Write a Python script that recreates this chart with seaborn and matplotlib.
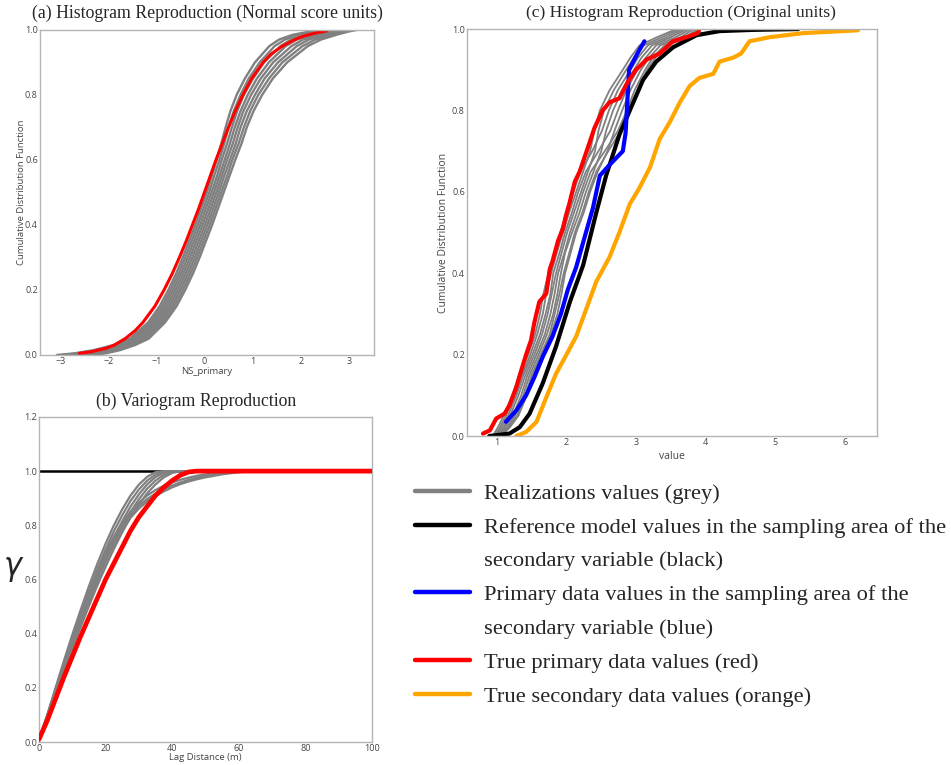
import numpy as np
import pandas as pd
import matplotlib
matplotlib.use("Agg")
import matplotlib.pyplot as plt
from matplotlib.lines import Line2D
import seaborn as sns

# ---------------- data ----------------
# (a) normal-score CDFs: x value reached at each cumulative probability
P_A = [0.0, 0.005, 0.015, 0.03, 0.05, 0.1, 0.15, 0.2, 0.25, 0.3, 0.35, 0.4, 0.45, 0.5,
       0.55, 0.6, 0.65, 0.7, 0.75, 0.8, 0.85, 0.9, 0.95, 0.97, 0.985, 0.995, 1.0]
REAL_A = [
    [-3.07, -2.70, -2.30, -1.90, -1.55, -1.17, -0.93, -0.75, -0.59, -0.45, -0.32, -0.19, -0.07, 0.05,
     0.15, 0.25, 0.35, 0.44, 0.54, 0.67, 0.84, 1.05, 1.35, 1.55, 1.84, 2.20, 2.60],
    [-2.97, -2.61, -2.22, -1.84, -1.49, -1.12, -0.88, -0.70, -0.54, -0.40, -0.27, -0.14, -0.02, 0.10,
     0.20, 0.31, 0.41, 0.50, 0.61, 0.75, 0.92, 1.15, 1.46, 1.67, 1.97, 2.31, 2.68],
    [-2.87, -2.51, -2.14, -1.77, -1.44, -1.07, -0.83, -0.65, -0.49, -0.35, -0.22, -0.09, 0.03, 0.15,
     0.26, 0.36, 0.47, 0.57, 0.68, 0.82, 1.01, 1.24, 1.58, 1.80, 2.10, 2.43, 2.77],
    [-2.77, -2.42, -2.06, -1.71, -1.38, -1.02, -0.78, -0.60, -0.44, -0.30, -0.17, -0.04, 0.08, 0.20,
     0.31, 0.42, 0.53, 0.63, 0.75, 0.90, 1.09, 1.34, 1.69, 1.92, 2.23, 2.54, 2.85],
    [-2.68, -2.33, -1.99, -1.64, -1.33, -0.97, -0.73, -0.55, -0.39, -0.25, -0.12, 0.01, 0.13, 0.25,
     0.36, 0.47, 0.59, 0.69, 0.81, 0.97, 1.17, 1.43, 1.81, 2.05, 2.36, 2.66, 2.93],
    [-2.58, -2.24, -1.91, -1.58, -1.27, -0.92, -0.68, -0.50, -0.34, -0.20, -0.07, 0.06, 0.18, 0.30,
     0.41, 0.53, 0.65, 0.75, 0.88, 1.05, 1.25, 1.53, 1.92, 2.17, 2.49, 2.77, 3.01],
    [-2.48, -2.14, -1.83, -1.51, -1.22, -0.87, -0.63, -0.45, -0.29, -0.15, -0.02, 0.11, 0.23, 0.35,
     0.47, 0.58, 0.71, 0.82, 0.95, 1.12, 1.34, 1.62, 2.04, 2.30, 2.62, 2.89, 3.10],
    [-2.38, -2.05, -1.75, -1.45, -1.16, -0.82, -0.58, -0.40, -0.24, -0.10, 0.03, 0.16, 0.28, 0.40,
     0.52, 0.64, 0.77, 0.88, 1.02, 1.20, 1.42, 1.72, 2.15, 2.42, 2.75, 3.00, 3.18],
]
RED_A_P = [0.005, 0.01, 0.02, 0.03, 0.05, 0.075, 0.1, 0.15, 0.2, 0.25, 0.3, 0.35, 0.4, 0.45, 0.5,
           0.55, 0.6, 0.65, 0.7, 0.75, 0.8, 0.85, 0.9, 0.925, 0.95, 0.97, 0.98, 0.99, 0.997]
RED_A_X = [-2.60, -2.35, -2.06, -1.88, -1.65, -1.44, -1.28, -1.03, -0.84, -0.67, -0.52, -0.38, -0.25,
           -0.12, 0.00, 0.12, 0.24, 0.37, 0.50, 0.64, 0.80, 0.98, 1.22, 1.38, 1.62, 1.88, 2.05, 2.30, 2.55]

# (b) experimental variograms
LAG = [0, 2.5, 5, 7.5, 10, 12.5, 15, 17.5, 20, 22.5, 25, 27.5, 30, 32.5, 35, 37.5, 40, 42.5, 45,
       47.5, 50, 55, 60, 65, 70, 80, 90, 100]
REAL_B = [
    [0.01, 0.101, 0.201, 0.300, 0.396, 0.487, 0.575, 0.657, 0.732, 0.800, 0.859, 0.910, 0.950, 0.979,
     0.996, 1.0, 1.0, 1.0, 1.0, 1.0, 1.0, 1.0, 1.0, 1.0, 1.0, 1.0, 1.0, 1.0],
    [0.01, 0.097, 0.194, 0.289, 0.382, 0.470, 0.556, 0.636, 0.710, 0.778, 0.837, 0.890, 0.932, 0.965,
     0.987, 0.997, 1.0, 1.0, 1.0, 1.0, 1.0, 1.0, 1.0, 1.0, 1.0, 1.0, 1.0, 1.0],
    [0.01, 0.094, 0.186, 0.278, 0.367, 0.453, 0.536, 0.614, 0.688, 0.755, 0.815, 0.869, 0.914, 0.951,
     0.978, 0.994, 1.0, 1.0, 1.0, 1.0, 1.0, 1.0, 1.0, 1.0, 1.0, 1.0, 1.0, 1.0],
    [0.01, 0.090, 0.180, 0.269, 0.355, 0.439, 0.519, 0.596, 0.668, 0.734, 0.795, 0.849, 0.896, 0.935,
     0.965, 0.986, 0.997, 1.0, 1.0, 1.0, 1.0, 1.0, 1.0, 1.0, 1.0, 1.0, 1.0, 1.0],
    [0.01, 0.087, 0.174, 0.259, 0.343, 0.424, 0.502, 0.577, 0.647, 0.713, 0.774, 0.829, 0.877, 0.918,
     0.951, 0.977, 0.993, 1.0, 1.0, 1.0, 1.0, 1.0, 1.0, 1.0, 1.0, 1.0, 1.0, 1.0],
    [0.01, 0.092, 0.183, 0.272, 0.358, 0.440, 0.520, 0.595, 0.665, 0.728, 0.783, 0.828, 0.862, 0.888,
     0.908, 0.925, 0.940, 0.952, 0.962, 0.970, 0.977, 0.988, 0.996, 1.0, 1.0, 1.0, 1.0, 1.0],
    [0.01, 0.095, 0.190, 0.282, 0.370, 0.455, 0.535, 0.610, 0.680, 0.742, 0.795, 0.838, 0.872, 0.897,
     0.917, 0.933, 0.947, 0.958, 0.968, 0.976, 0.982, 0.991, 0.997, 1.0, 1.0, 1.0, 1.0, 1.0],
    [0.01, 0.098, 0.196, 0.292, 0.384, 0.471, 0.553, 0.629, 0.698, 0.758, 0.808, 0.850, 0.884, 0.910,
     0.930, 0.946, 0.958, 0.968, 0.976, 0.983, 0.988, 0.994, 0.998, 1.0, 1.0, 1.0, 1.0, 1.0],
]
RED_B = [0.01, 0.08, 0.16, 0.24, 0.315, 0.39, 0.46, 0.53, 0.60, 0.66, 0.72, 0.78, 0.83, 0.87, 0.91,
         0.94, 0.965, 0.985, 0.997, 1.0, 1.0, 1.0, 1.0, 1.0, 1.0, 1.0, 1.0, 1.0]
SILL = 1.0

# (c) original-unit CDFs
P_C = [0.0, 0.02, 0.05, 0.1, 0.15, 0.2, 0.25, 0.3, 0.35, 0.4, 0.45, 0.5, 0.55, 0.6, 0.65, 0.7,
       0.75, 0.8, 0.85, 0.9, 0.93, 0.96, 0.98, 1.0]
REAL_C = [
    [0.94, 1.01, 1.10, 1.22, 1.32, 1.45, 1.55, 1.62, 1.67, 1.74, 1.83, 1.91, 2.00, 2.10, 2.20, 2.37,
     2.51, 2.61, 2.74, 2.92, 3.03, 3.17, 3.44, 3.68],
    [0.96, 1.04, 1.13, 1.25, 1.36, 1.48, 1.58, 1.66, 1.71, 1.78, 1.86, 1.95, 2.04, 2.14, 2.24, 2.34,
     2.40, 2.48, 2.62, 2.81, 2.92, 3.05, 3.30, 3.58],
    [0.98, 1.06, 1.16, 1.28, 1.38, 1.51, 1.62, 1.70, 1.77, 1.81, 1.90, 1.98, 2.08, 2.17, 2.28, 2.46,
     2.63, 2.74, 2.86, 3.02, 3.14, 3.29, 3.57, 3.78],
    [0.99, 1.09, 1.19, 1.31, 1.41, 1.54, 1.65, 1.73, 1.79, 1.85, 1.93, 2.01, 2.11, 2.21, 2.31, 2.41,
     2.46, 2.54, 2.68, 2.86, 2.97, 3.11, 3.37, 3.63],
    [1.01, 1.11, 1.23, 1.35, 1.44, 1.57, 1.69, 1.77, 1.83, 1.88, 1.97, 2.05, 2.15, 2.24, 2.35, 2.55,
     2.74, 2.87, 2.98, 3.13, 3.24, 3.41, 3.71, 3.88],
    [1.03, 1.14, 1.26, 1.38, 1.47, 1.60, 1.72, 1.81, 1.87, 1.92, 1.98, 2.08, 2.19, 2.28, 2.39, 2.50,
     2.57, 2.67, 2.80, 2.97, 3.08, 3.23, 3.50, 3.73],
    [1.05, 1.16, 1.29, 1.41, 1.50, 1.63, 1.76, 1.83, 1.90, 1.96, 2.04, 2.12, 2.23, 2.32, 2.43, 2.60,
     2.78, 2.91, 3.02, 3.16, 3.28, 3.45, 3.75, 3.91],
    [1.06, 1.18, 1.31, 1.43, 1.52, 1.65, 1.78, 1.87, 1.93, 1.98, 2.06, 2.14, 2.25, 2.34, 2.45, 2.59,
     2.69, 2.80, 2.92, 3.07, 3.19, 3.35, 3.64, 3.83],
]
RED_C_X = [0.80, 0.90, 0.99, 1.11, 1.18, 1.28, 1.33, 1.42, 1.49, 1.54, 1.61, 1.71, 1.76, 1.80, 1.88, 1.95, 1.99,
           2.04, 2.12, 2.19, 2.28, 2.33, 2.40, 2.52, 2.62, 2.76, 2.88, 3.00, 3.15, 3.34, 3.53, 3.72, 3.89, 3.91]
RED_C_Y = [0.006, 0.014, 0.043, 0.055, 0.075, 0.12, 0.15, 0.20, 0.235, 0.28, 0.33, 0.35, 0.41, 0.43, 0.48, 0.51, 0.54,
           0.57, 0.625, 0.65, 0.695, 0.72, 0.756, 0.80, 0.82, 0.83, 0.87, 0.90, 0.925, 0.94, 0.97, 0.98, 0.99, 1.0]
BLUE_C_X = [1.13, 1.28, 1.42, 1.54, 1.66, 1.80, 1.92, 2.02, 2.14, 2.28, 2.38, 2.48, 2.64, 2.81, 2.85, 2.90, 3.02, 3.12]
BLUE_C_Y = [0.035, 0.063, 0.10, 0.145, 0.195, 0.245, 0.30, 0.36, 0.415, 0.50, 0.56, 0.64, 0.67, 0.70, 0.745, 0.90, 0.94, 0.97]
BLACK_C_X = [0.89, 1.18, 1.33, 1.47, 1.66, 1.85, 2.05, 2.24, 2.43, 2.57, 2.76, 2.91, 3.10, 3.29, 3.53, 3.87, 4.20, 4.68, 5.33]
BLACK_C_Y = [0.0, 0.006, 0.022, 0.055, 0.13, 0.22, 0.33, 0.42, 0.55, 0.64, 0.74, 0.80, 0.875, 0.92, 0.955, 0.985, 0.995, 0.998, 1.0]
ORANGE_C_X = [1.28, 1.42, 1.57, 1.71, 1.85, 2.00, 2.14, 2.28, 2.43, 2.62, 2.76, 2.91, 3.05, 3.20, 3.34, 3.48, 3.63,
              3.77, 3.91, 4.11, 4.20, 4.40, 4.51, 4.63, 4.92, 5.40, 6.19]
ORANGE_C_Y = [0.0, 0.01, 0.035, 0.095, 0.153, 0.20, 0.245, 0.31, 0.38, 0.44, 0.50, 0.57, 0.61, 0.66, 0.73, 0.77, 0.82,
              0.86, 0.88, 0.89, 0.92, 0.93, 0.94, 0.97, 0.98, 0.99, 0.997]

LEGEND_LINES = [
    "Realizations values (grey)",
    "Reference model values in the sampling area of the",
    "secondary variable (black)",
    "Primary data values in the sampling area of the",
    "secondary variable (blue)",
    "True primary data values (red)",
    "True secondary data values (orange)",
]
LEGEND_COLORS = ["#808080", "black", "none", "blue", "none", "red", "orange"]

# ---------------- style ----------------
sns.set_style("white")
plt.rcParams["font.family"] = ["Open Sans", "DejaVu Sans"]
GREY = "#808080"
SPINE = "#b4b4b4"
TICKC = "#444444"
SERIF = "Liberation Serif"


def long_df(series_list, common, xname, yname, common_is_y=True):
    rows = []
    for i, s in enumerate(series_list):
        for v, c in zip(s, common):
            rows.append((i, v, c) if common_is_y else (i, c, v))
    return pd.DataFrame(rows, columns=["real", xname, yname])


def style_ax(ax):
    for s in ax.spines.values():
        s.set_color(SPINE)
        s.set_linewidth(1.0)
    ax.tick_params(axis="both", length=0, labelsize=6.5, colors=TICKC, pad=1.5)


fig = plt.figure(figsize=(9.51, 7.65), dpi=100)

# ---- (a)
axA = fig.add_axes([0.042, 0.536, 0.351, 0.425])
dfA = long_df(REAL_A, P_A, "x", "p", common_is_y=True)
sns.lineplot(data=dfA, x="x", y="p", units="real", estimator=None, sort=False,
             color=GREY, lw=1.7, ax=axA)
sns.lineplot(x=RED_A_X, y=RED_A_P, sort=False, color="red", lw=2.2, ax=axA)
axA.set_xlim(-3.42, 3.52)
axA.set_ylim(0, 1)
axA.set_xticks([-3, -2, -1, 0, 1, 2, 3])
axA.set_yticks([0, 0.2, 0.4, 0.6, 0.8, 1.0])
axA.set_xlabel("NS_primary", fontsize=6.8, color=TICKC, labelpad=0.5)
axA.set_ylabel("Cumulative Distribution Function", fontsize=6.8, color=TICKC, labelpad=-0.5)
style_ax(axA)
fig.text(207 / 951, 1 - 13 / 765, "(a) Histogram Reproduction (Normal score units)",
         family=SERIF, fontsize=12.8, ha="center", va="center")

# ---- (b)
axB = fig.add_axes([0.041, 0.030, 0.350, 0.425])
dfB = long_df(REAL_B, LAG, "lag", "gam", common_is_y=False)
axB.axhline(SILL, color="black", lw=1.8, zorder=1)
sns.lineplot(data=dfB, x="lag", y="gam", units="real", estimator=None, sort=False,
             color=GREY, lw=1.6, ax=axB)
sns.lineplot(x=LAG, y=RED_B, sort=False, color="red", lw=3.4, ax=axB, zorder=3)
axB.set_xlim(0, 100)
axB.set_ylim(0, 1.2)
axB.set_xticks([0, 20, 40, 60, 80, 100])
axB.set_yticks([0, 0.2, 0.4, 0.6, 0.8, 1.0, 1.2])
axB.set_xlabel("Lag Distance (m)", fontsize=6.8, color=TICKC, labelpad=0)
axB.set_ylabel("")
style_ax(axB)
fig.text(196 / 951, 1 - 401 / 765, "(b) Variogram Reproduction",
         family=SERIF, fontsize=12.8, ha="center", va="center")
fig.text(13 / 951, 1 - 567 / 765, "γ", fontsize=22, ha="center", va="center",
         family=["DejaVu Sans"], style="italic")

# ---- (c)
axC = fig.add_axes([0.491, 0.430, 0.431, 0.532])
dfC = long_df(REAL_C, P_C, "x", "p", common_is_y=True)
sns.lineplot(data=dfC, x="x", y="p", units="real", estimator=None, sort=False,
             color=GREY, lw=1.3, ax=axC)
sns.lineplot(x=ORANGE_C_X, y=ORANGE_C_Y, sort=False, color="orange", lw=3.0, ax=axC)
sns.lineplot(x=BLACK_C_X, y=BLACK_C_Y, sort=False, color="black", lw=3.0, ax=axC)
sns.lineplot(x=BLUE_C_X, y=BLUE_C_Y, sort=False, color="blue", lw=3.0, ax=axC)
sns.lineplot(x=RED_C_X, y=RED_C_Y, sort=False, color="red", lw=3.0, ax=axC)
axC.set_xlim(0.57, 6.46)
axC.set_ylim(0, 1)
axC.set_xticks([1, 2, 3, 4, 5, 6])
axC.set_yticks([0, 0.2, 0.4, 0.6, 0.8, 1.0])
axC.set_xlabel("value", fontsize=7.5, color=TICKC, labelpad=3)
axC.set_ylabel("Cumulative Distribution Function", fontsize=7.5, color=TICKC, labelpad=2)
style_ax(axC)
fig.text(681 / 951, 1 - 13 / 765, "(c) Histogram Reproduction (Original units)",
         family=SERIF, fontsize=12.6, ha="center", va="center")

# ---- legend (one row per printed line; continuation lines get no handle)
handles = [Line2D([], [], color=c, lw=3.2) for c in LEGEND_COLORS]
leg = fig.legend(handles, LEGEND_LINES, loc="upper left",
                 bbox_to_anchor=(415 / 951, 1 - 483 / 765), frameon=False,
                 prop={"family": SERIF, "size": 16.2}, handlelength=2.45,
                 handletextpad=0.62, labelspacing=0.58, borderpad=0, borderaxespad=0)

fig.savefig("out.png", dpi=100)
